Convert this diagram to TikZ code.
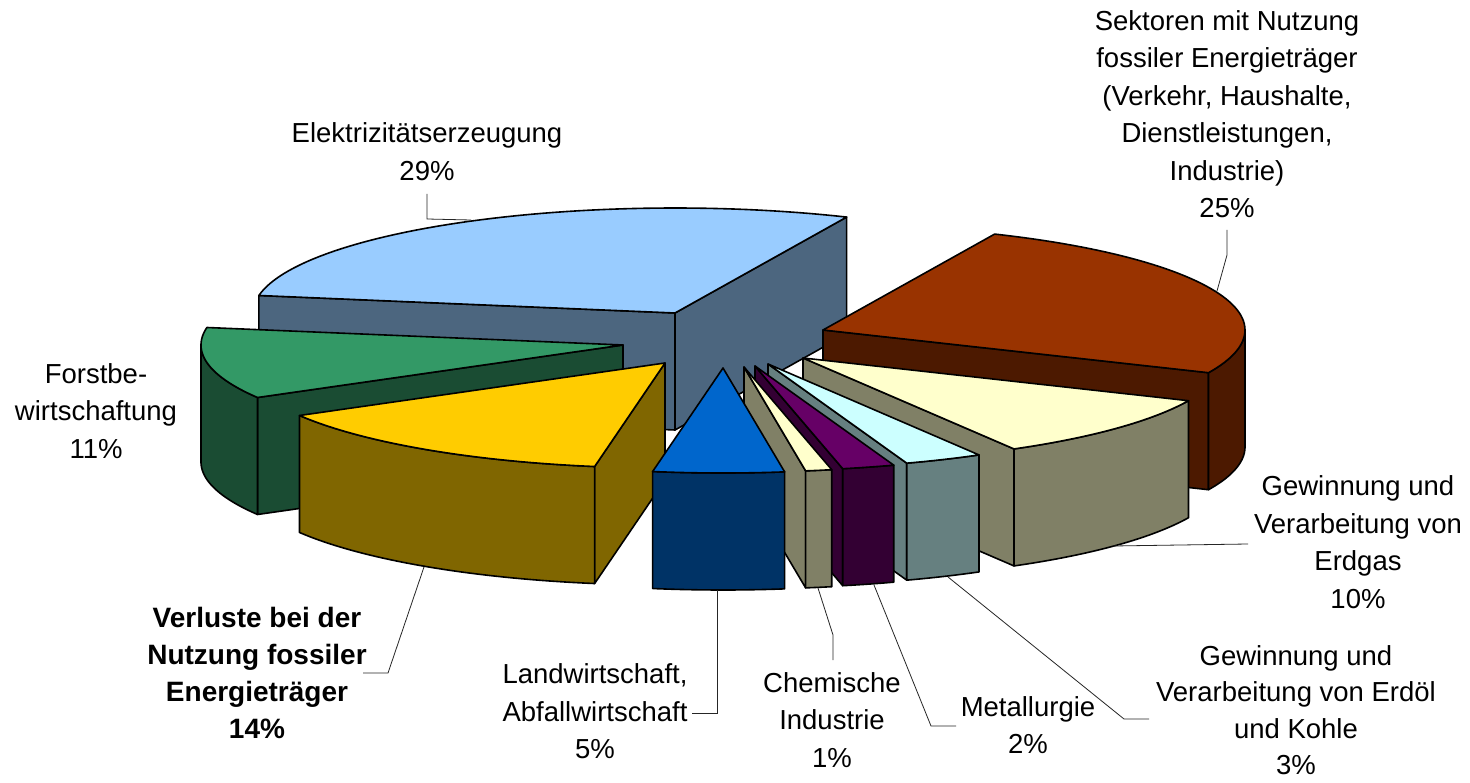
\documentclass[tikz,border=0pt]{standalone}
\usepackage{fontspec}
\setmainfont{Liberation Sans}
\definecolor{elekTop}{HTML}{99CCFF}\definecolor{elekSide}{HTML}{4C667F}
\definecolor{forstTop}{HTML}{339966}\definecolor{forstSide}{HTML}{1A4C33}
\definecolor{verlTop}{HTML}{FFCC00}\definecolor{verlSide}{HTML}{806600}
\definecolor{landTop}{HTML}{0066CC}\definecolor{landSide}{HTML}{003366}
\definecolor{chemTop}{HTML}{FFFFCC}\definecolor{chemSide}{HTML}{808066}
\definecolor{metTop}{HTML}{660066}\definecolor{metSide}{HTML}{330033}
\definecolor{oelTop}{HTML}{CCFFFF}\definecolor{oelSide}{HTML}{668080}
\definecolor{gasTop}{HTML}{FFFFCC}\definecolor{gasSide}{HTML}{808066}
\definecolor{sekTop}{HTML}{993300}\definecolor{sekSide}{HTML}{4C1900}
\newcommand\pieRA{422}
\newcommand\pieRB{105}
\newcommand\pieDP{117}
% top face of a slice: apex x, apex y, start angle, end angle, colour
\newcommand\slicetop[5]{\filldraw[edge,fill=#5] (#1,#2) -- plot[domain=#3:#4,samples=60,variable=\q] ({#1+\pieRA*cos(\q)},{#2-\pieRB*sin(\q)}) -- cycle;}
% radial side face at one angle
\newcommand\sideface[4]{\filldraw[edge,fill=#4] (#1,#2) -- ({#1+\pieRA*cos(#3)},{#2-\pieRB*sin(#3)}) -- ({#1+\pieRA*cos(#3)},{#2+\pieDP-\pieRB*sin(#3)}) -- (#1,#2+\pieDP) -- cycle;}
% outer curved face between two angles
\newcommand\outerface[5]{\filldraw[edge,fill=#5] plot[domain=#3:#4,samples=40,variable=\q] ({#1+\pieRA*cos(\q)},{#2-\pieRB*sin(\q)}) -- plot[domain=#3:#4,samples=40,variable=\q] ({#1+\pieRA*cos(#3+#4-\q)},{#2+\pieDP-\pieRB*sin(#3+#4-\q)}) -- cycle;}
\begin{document}
\begin{tikzpicture}[x=1pt,y=-1pt,
  edge/.style={draw=black,line width=1.6pt,line join=round},
  leader/.style={draw=black!85,line width=0.8pt},
  lbl/.style={align=center,inner sep=0pt,font=\fontsize{27.5}{37.5}\selectfont},
  ]
\useasboundingbox[fill=white] (0,0) rectangle (1470,783);

% Elektrizitaetserzeugung 29%
\sideface{675}{313}{66}{elekSide}
\sideface{675}{313}{170.4}{elekSide}
\slicetop{675}{313}{66}{170.4}{elekTop}
% Sektoren 25%
\sideface{823}{330}{336}{sekSide}
\outerface{823}{330}{336}{360}{sekSide}
\slicetop{823}{330}{336}{426}{sekTop}
% Forstbewirtschaftung 11%
\sideface{623}{345}{210}{forstSide}
\outerface{623}{345}{180}{210}{forstSide}
\slicetop{623}{345}{170.4}{210}{forstTop}
% Verluste 14%
\sideface{665}{363}{260.4}{verlSide}
\outerface{665}{363}{210}{260.4}{verlSide}
\slicetop{665}{363}{210}{260.4}{verlTop}
% Erdgas 10%
\sideface{803}{358}{300}{gasSide}
\outerface{803}{358}{300}{336}{gasSide}
\slicetop{803}{358}{300}{336}{gasTop}
% Erdoel und Kohle 3%
\sideface{768}{364}{289.2}{oelSide}
\outerface{768}{364}{289.2}{300}{oelSide}
\slicetop{768}{364}{289.2}{300}{oelTop}
% Metallurgie 2%
\sideface{755}{366}{282}{metSide}
\outerface{755}{366}{282}{289.2}{metSide}
\slicetop{755}{366}{282}{289.2}{metTop}
% Chemische Industrie 1%
\sideface{744}{367}{278.4}{chemSide}
\outerface{744}{367}{278.4}{282}{chemSide}
\slicetop{744}{367}{278.4}{282}{chemTop}
% Landwirtschaft 5%
\outerface{723}{368}{260.4}{278.4}{landSide}
\slicetop{723}{368}{260.4}{278.4}{landTop}

% labels
\node[lbl] (elek) at (427,151.5) {Elektrizitätserzeugung\\29\%};
\node[lbl] (sek) at (1227,114) {Sektoren mit Nutzung\\fossiler Energieträger\\(Verkehr, Haushalte,\\Dienstleistungen,\\Industrie)\\25\%};
\node[lbl] (forst) at (96,411) {Forstbe-\\wirtschaftung\\11\%};
\node[lbl,font=\fontsize{28}{37}\selectfont\bfseries] (verl) at (257,673) {Verluste bei der\\Nutzung fossiler\\Energieträger\\14\%};
\node[lbl] (land) at (595,711.5) {Landwirtschaft,\\Abfallwirtschaft\\5\%};
\node[lbl] (chem) at (832,720) {Chemische\\Industrie\\1\%};
\node[lbl] (met) at (1028,725) {Metallurgie\\2\%};
\node[lbl,font=\fontsize{27.5}{36.5}\selectfont] (oel) at (1296,710) {Gewinnung und\\Verarbeitung von Erdöl\\und Kohle\\3\%};
\node[lbl] (gas) at (1358,542) {Gewinnung und\\Verarbeitung von\\Erdgas\\10\%};

% leader lines
\coordinate (eA) at (471,220); \coordinate (eB) at (427,219); \coordinate (eC) at (427,194);
\draw[leader] (eA) -- (eB) -- (eC);
\coordinate (sA) at (1217,291); \coordinate (sB) at (1227,255); \coordinate (sC) at (1227,230);
\draw[leader] (sA) -- (sB) -- (sC);
\coordinate (gA) at (1113,546); \coordinate (gB) at (1248,544);
\draw[leader] (gA) -- (gB);
\coordinate (oA) at (948,577); \coordinate (oB) at (1124,719); \coordinate (oC) at (1149,719);
\draw[leader] (oA) -- (oB) -- (oC);
\coordinate (mA) at (874,585); \coordinate (mB) at (931,726); \coordinate (mC) at (956,726);
\draw[leader] (mA) -- (mB) -- (mC);
\coordinate (cA) at (818,588); \coordinate (cB) at (833,635); \coordinate (cC) at (833,660);
\draw[leader] (cA) -- (cB) -- (cC);
\coordinate (lA) at (717,590); \coordinate (lB) at (717,713); \coordinate (lC) at (692,713);
\draw[leader] (lA) -- (lB) -- (lC);
\coordinate (vA) at (424,567); \coordinate (vB) at (388,673); \coordinate (vC) at (363,673);
\draw[leader] (vA) -- (vB) -- (vC);
\end{tikzpicture}
\end{document}
